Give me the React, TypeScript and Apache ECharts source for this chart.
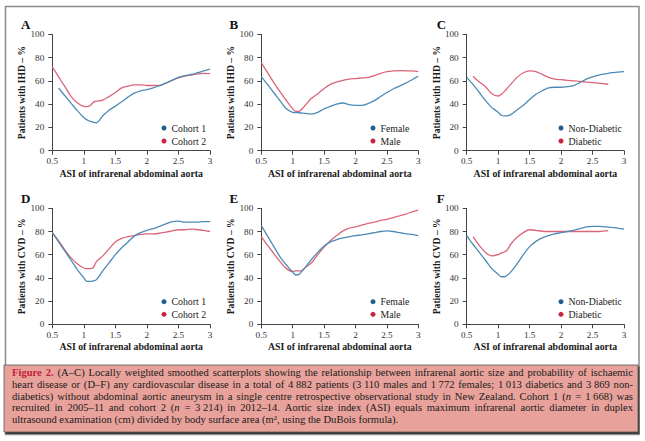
import React, { useEffect, useRef } from 'react';
import * as echarts from 'echarts';

const FONT = '"Liberation Serif", "Times New Roman", serif';

const X = [0.5, 0.6, 0.7, 0.8, 0.9, 1.0, 1.05, 1.1, 1.15, 1.2, 1.3, 1.4, 1.5, 1.6, 1.7, 1.8, 1.9, 2.0, 2.1, 2.2, 2.3, 2.4, 2.5, 2.6, 2.7, 2.75, 2.8, 2.9, 3.0];

const A_COHORT1 = [null, 53.7, 47.2, 40.7, 34.2, 28.5, 26.5, 25.3, 24.3, 24, 30, 34.8, 38.3, 42, 46, 49.5, 51.5, 52.5, 54, 56, 58, 60.5, 63, 64.5, 65.5, 66, 67, 68.5, 70];
const A_COHORT2 = [72, 63.5, 55, 46.5, 41, 38, 37.8, 38.8, 41.5, 42.5, 43.5, 46.5, 50, 54, 55.5, 56.5, 56.5, 56, 56, 56, 58, 60.5, 62.5, 64, 65, 65.5, 66, 66.5, 66.3];
const B_FEMALE = [63.6, 56.8, 49.8, 42.8, 36, 33, 32.8, 32.6, 32.3, 32, 31.5, 33, 36, 38, 40, 41, 39.5, 39, 39, 40.5, 43, 46.5, 50, 53, 55.5, 56.8, 58, 61, 64];
const B_MALE = [75.6, 67, 58.5, 50.5, 43, 36, 33.8, 33.8, 36, 39, 45, 49, 53.5, 57, 59, 60.5, 61.5, 62, 62.5, 63, 64.5, 66.5, 68, 68.5, 68.8, 68.8, 68.5, 68.5, 68];
const C_NONDIAB = [63, 57, 50, 43, 37, 33, 30.5, 30, 30, 31, 35, 39, 44, 48.5, 51.5, 54, 54.5, 54.5, 55, 56, 58.5, 61.5, 63.5, 65, 66, 66.5, 67, 67.5, 68];
const C_DIAB = [null, 64, 59, 55, 49, 47, 48.5, 51, 54, 57, 63, 67, 68.5, 68, 65.5, 63, 61.5, 61, 60.5, 60, 59.5, 59, 58.5, 58, 57.5, 57, null, null, null];
const D_COHORT1 = [79, 71, 63, 55, 47, 40, 37, 37, 37.5, 38.5, 46, 53, 60, 66, 71, 76, 79, 81, 82.5, 84.5, 86.5, 88.5, 89, 88, 88, 88, 88, 88.5, 88.5];
const D_COHORT2 = [79, 72, 64, 57, 52, 48.5, 48, 48, 49, 54, 59, 65, 71, 74, 75.5, 76.5, 77.5, 78, 78, 78.5, 79.5, 80.5, 81.5, 81.5, 82, 82, 81.5, 81, 80];
const E_FEMALE = [85, 76, 67, 58, 51, 45, 42.5, 43, 46, 49, 56, 62, 67.5, 71, 73, 74.5, 75.5, 76.5, 77, 78, 79, 80, 80.5, 80, 79, 78.5, 78, 77.5, 76.5];
const E_MALE = [75.5, 68, 61, 54, 48, 45.5, 46, 46, 46.5, 49, 53, 60, 66.5, 72, 76.5, 80.5, 83, 84, 85.5, 87, 88, 89.5, 90.5, 92, 93.5, 94.3, 95, 97, 98.5];
const F_NONDIAB = [76.5, 69, 62, 55, 48, 43, 41, 41, 42.5, 45, 52, 60, 67, 71.5, 74.5, 76.5, 78, 79, 80, 81, 82.5, 84, 84.5, 84.5, 84, 83.8, 83.5, 83, 82];
const F_DIAB = [null, 75.5, 68, 62, 59, 60, 61.5, 62.3, 64.5, 69, 75, 79, 81.5, 81, 80.2, 80, 80, 80, 80, 80, 80, 80, 80, 80, 80.5, 80.7, null, null, null];

const IHD = 'Patients with IHD – %';
const CVD = 'Patients with CVD – %';
const X_NAME = 'ASI of infrarenal abdominal aorta';

const PANELS = [
  { letter: 'A', yName: IHD, names: ['Cohort 1', 'Cohort 2'], blue: A_COHORT1, red: A_COHORT2 },
  { letter: 'B', yName: IHD, names: ['Female', 'Male'], blue: B_FEMALE, red: B_MALE },
  { letter: 'C', yName: IHD, names: ['Non-Diabetic', 'Diabetic'], blue: C_NONDIAB, red: C_DIAB },
  { letter: 'D', yName: CVD, names: ['Cohort 1', 'Cohort 2'], blue: D_COHORT1, red: D_COHORT2 },
  { letter: 'E', yName: CVD, names: ['Female', 'Male'], blue: E_FEMALE, red: E_MALE },
  { letter: 'F', yName: CVD, names: ['Non-Diabetic', 'Diabetic'], blue: F_NONDIAB, red: F_DIAB },
];

const LAYOUT = [
  { left: 52.3, top: 34.3, width: 157.7, height: 116.4, lx: 21, ly: 24, legLeft: 161.5, legTop: 122.5 },
  { left: 261.3, top: 34.3, width: 157, height: 116.4, lx: 229.5, ly: 24, legLeft: 370.5, legTop: 122.5 },
  { left: 466.7, top: 34.3, width: 157.3, height: 116.4, lx: 436.7, ly: 24, legLeft: 558.5, legTop: 122.5 },
  { left: 52.3, top: 208.3, width: 157.7, height: 116, lx: 21, ly: 198.3, legLeft: 161.5, legTop: 296.2 },
  { left: 261.3, top: 208.3, width: 157, height: 116, lx: 229.5, ly: 198.3, legLeft: 370.5, legTop: 296.2 },
  { left: 466.7, top: 208.3, width: 157.3, height: 116, lx: 436.7, ly: 198.3, legLeft: 558.5, legTop: 296.2 },
];

const CAPTION_LINES = [
  '{f|Figure} {f|2.} (A–C) Locally weighted smoothed scatterplots showing the relationship between infrarenal aortic size and probability of ischaemic',
  'heart disease or (D–F) any cardiovascular disease in a total of 4~882 patients (3~110 males and 1~772 females; 1~013 diabetics and 3~869 non-',
  'diabetics) without abdominal aortic aneurysm in a single centre retrospective observational study in New Zealand. Cohort 1 ({i|n} = 1~668) was',
  'recruited in 2005–11 and cohort 2 ({i|n} = 3~214) in 2012–14. Aortic size index (ASI) equals maximum infrarenal aortic diameter in duplex',
  'ultrasound examination (cm) divided by body surface area (m², using the DuBois formula).',
];

const BLUE_LINE = '#4d8bb5';
const RED_LINE = '#da6579';
const BLUE_DOT = '#1c5f8f';
const RED_DOT = '#c9233f';

function toPairs(ys: (number | null)[]) {
  const out: number[][] = [];
  X.forEach((x, i) => {
    const y = ys[i];
    if (y !== null && y !== undefined) out.push([x, y]);
  });
  return out;
}

function parseWord(w: string) {
  return w
    .split(/(\{\w+\|[^}]*\})/)
    .filter((p) => p.length > 0)
    .map((p) => {
      const m = p.match(/^\{(\w+)\|([^}]*)\}$/);
      return m ? { s: m[1], t: m[2].replace(/~/g, ' ') } : { s: 'r', t: p.replace(/~/g, ' ') };
    });
}

function buildCaption() {
  const canvas = document.createElement('canvas');
  const ctx = canvas.getContext('2d')!;
  const fontFor = (s: string, fs: number) =>
    s === 'i' ? `italic ${fs}px ${FONT}` : s === 'f' ? `bold ${fs}px ${FONT}` : `${fs}px ${FONT}`;
  const measure = (w: string, fs: number) =>
    parseWord(w).reduce((acc, seg) => {
      ctx.font = fontFor(seg.s, fs);
      return acc + ctx.measureText(seg.t).width;
    }, 0);
  const left = 12;
  const right = 633;
  const avail = right - left;
  let fs = 10.6;
  let maxNat = 0;
  CAPTION_LINES.slice(0, 4).forEach((line) => {
    const words = line.split(' ');
    ctx.font = fontFor('r', fs);
    const sp = ctx.measureText(' ').width;
    const nat = words.reduce((a, w) => a + measure(w, fs), 0) + sp * (words.length - 1);
    maxNat = Math.max(maxNat, nat);
  });
  if (maxNat > avail - 6) fs = (fs * (avail - 6)) / maxNat;
  const ys = [372.7, 384.3, 396, 407.6, 419.2];
  const els: any[] = [];
  CAPTION_LINES.forEach((line, li) => {
    const words = line.split(' ');
    const widths = words.map((w) => measure(w, fs));
    ctx.font = fontFor('r', fs);
    const sp = ctx.measureText(' ').width;
    const total = widths.reduce((a, b) => a + b, 0);
    const gap = li < 4 ? (avail - total) / (words.length - 1) : sp;
    let x = left;
    words.forEach((w, wi) => {
      els.push({
        type: 'text',
        silent: true,
        z: 10,
        style: {
          text: w.replace(/~/g, ' '),
          x,
          y: ys[li],
          fontSize: fs,
          fontFamily: FONT,
          fill: '#1a1a1a',
          align: 'left',
          verticalAlign: 'middle',
          rich: {
            i: { fontStyle: 'italic', fontSize: fs, fontFamily: FONT, fill: '#1a1a1a' },
            f: { fontWeight: 'bold', fontSize: fs, fontFamily: FONT, fill: '#c4213c' },
          },
        },
      });
      x += widths[wi] + gap;
    });
  });
  return els;
}

export default function App() {
  const ref = useRef<HTMLDivElement>(null);
  useEffect(() => {
    const el = ref.current!;
    const chart = echarts.init(el, null, { renderer: 'svg' });

    const grid = LAYOUT.map((l) => ({ left: l.left, top: l.top, width: l.width, height: l.height }));
    const axisLine = { show: true, lineStyle: { color: '#444', width: 1 } };
    const axisTick = { show: true, length: 4, lineStyle: { color: '#444', width: 1 } };
    const xAxis = LAYOUT.map((_, i) => ({
      type: 'value',
      gridIndex: i,
      min: 0.5,
      max: 3,
      interval: 0.5,
      axisLine,
      axisTick,
      splitLine: { show: false },
      axisLabel: { fontFamily: FONT, fontSize: 9.2, color: '#333', margin: 6 },
      name: X_NAME,
      nameLocation: 'middle',
      nameGap: 17.5,
      nameTextStyle: { fontFamily: FONT, fontSize: 9.8, fontWeight: 'bold', color: '#1a1a1a' },
    }));
    const yAxis = PANELS.map((p, i) => ({
      type: 'value',
      gridIndex: i,
      min: 0,
      max: 100,
      interval: 20,
      axisLine,
      axisTick,
      splitLine: { show: false },
      axisLabel: { fontFamily: FONT, fontSize: 9.2, color: '#333', margin: 8 },
      name: p.yName,
      nameLocation: 'middle',
      nameGap: 23.5,
      nameTextStyle: { fontFamily: FONT, fontSize: 9.6, fontWeight: 'bold', color: '#1a1a1a' },
    }));
    const series: any[] = [];
    PANELS.forEach((p, i) => {
      series.push({
        type: 'line',
        name: p.names[0],
        xAxisIndex: i,
        yAxisIndex: i,
        data: toPairs(p.blue),
        smooth: 0.3,
        showSymbol: false,
        symbol: 'circle',
        silent: true,
        lineStyle: { color: BLUE_LINE, width: 1.3 },
        itemStyle: { color: BLUE_DOT },
        z: 3,
      });
      series.push({
        type: 'line',
        name: p.names[1],
        xAxisIndex: i,
        yAxisIndex: i,
        data: toPairs(p.red),
        smooth: 0.3,
        showSymbol: false,
        symbol: 'circle',
        silent: true,
        lineStyle: { color: RED_LINE, width: 1.3 },
        itemStyle: { color: RED_DOT },
        z: 2,
      });
    });
    const legend = PANELS.map((p, i) => ({
      orient: 'vertical',
      left: LAYOUT[i].legLeft,
      top: LAYOUT[i].legTop,
      padding: 0,
      itemWidth: 5,
      itemHeight: 5,
      itemGap: i < 3 ? 2 : 1.6,
      icon: 'circle',
      selectedMode: false,
      textStyle: { fontFamily: FONT, fontSize: 9.8, color: '#222', lineHeight: 11 },
      data: [
        { name: p.names[0], itemStyle: { color: BLUE_DOT } },
        { name: p.names[1], itemStyle: { color: RED_DOT } },
      ],
    }));

    const graphic: any[] = [
      {
        type: 'rect',
        silent: true,
        z: -10,
        shape: { x: 5.5, y: 6.5, width: 633.5, height: 428 },
        style: { fill: '#fff', stroke: '#8c8c8c', lineWidth: 1.5 },
      },
      {
        type: 'rect',
        silent: true,
        z: 5,
        shape: { x: 5.5, y: 366.5, width: 634, height: 67.5 },
        style: { fill: '#3a3a3a' },
      },
      {
        type: 'rect',
        silent: true,
        z: 6,
        shape: { x: 4, y: 365, width: 634, height: 67 },
        style: { fill: '#e8a29b', stroke: '#555', lineWidth: 0.8 },
      },
      ...PANELS.map((p, i) => ({
        type: 'text',
        silent: true,
        z: 10,
        style: {
          text: p.letter,
          x: LAYOUT[i].lx,
          y: LAYOUT[i].ly,
          fontFamily: FONT,
          fontSize: 13,
          fontWeight: 'bold',
          fill: '#111',
          align: 'left',
          verticalAlign: 'middle',
        },
      })),
      ...buildCaption(),
    ];

    chart.setOption({
      animation: false,
      backgroundColor: '#fff',
      grid,
      xAxis,
      yAxis,
      series,
      legend,
      graphic,
    });
    return () => chart.dispose();
  }, []);
  return (
    <div
      ref={ref}
      style={{ position: 'fixed', left: 0, top: 0, width: 645, height: 441, background: '#fff' }}
    />
  );
}
